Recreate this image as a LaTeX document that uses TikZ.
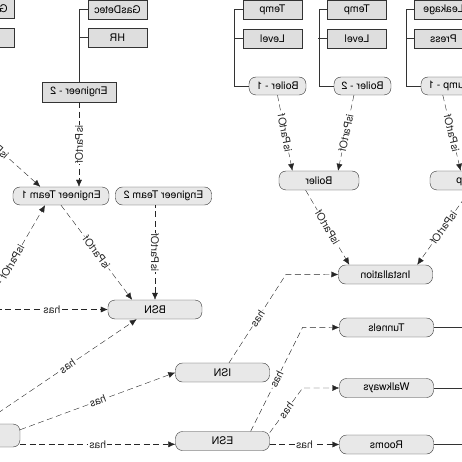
\documentclass[tikz,border=0pt]{standalone}
\usepackage{fontspec}
\setmainfont{TeX Gyre Heros}
\usepackage{tikz}
\usetikzlibrary{arrows.meta, positioning}

\begin{document}
\begin{tikzpicture}[x=1pt, y=-1pt, xscale=-1, transform shape,
    >={Latex[length=7pt, width=6pt]},
    font=\fontsize{10.5}{12}\selectfont,
    rbox/.style={draw=black!80, fill=black!9, rounded corners=7pt,
        minimum width=94pt, minimum height=19pt, inner sep=0pt},
    abox/.style={draw=black!80, fill=black!13,
        minimum width=59pt, minimum height=19pt, inner sep=0pt},
    rel/.style={->, dash pattern=on 6pt off 3.5pt, black!85},
    lbl/.style={fill=white, inner sep=1pt, sloped}]
    \useasboundingbox (0,0) rectangle (462,462);

    % Nhóm kỹ sư
    \node[abox] (gas1) at (477.5,9) {GasDetec};
    \node[abox] (hr1) at (477.5,38) {HR};
    \node[abox] (gas2) at (344.5,9.5) {GasDetec};
    \node[abox] (hr2) at (344.5,37.5) {HR};
    \node[abox, minimum width=74pt, minimum height=20pt] (eng2) at (383,92) {Engineer - 2};
    \node[rbox, minimum width=96pt, minimum height=18pt] (team1) at (401,196) {Engineer Team 1};
    \node[rbox, minimum width=96pt, minimum height=18pt] (team2) at (298.5,196) {Engineer Team 2};
    \draw[black!80] (eng2.north) |- (gas2.east);
    \draw[black!80] (hr2.east) -- ++(9,0);

    % Các mạng
    \node[rbox] (bsn) at (307,309.5) {BSN};
    \node[rbox] (isn) at (239.5,372.5) {ISN};
    \node[rbox] (esn) at (239.5,441) {ESN};
    \node[rbox, minimum height=23pt] (pl) at (489,435.5) {};
    \node[rbox] (inst) at (76.5,274.5) {Installation};
    \node[rbox] (tunnels) at (75.5,327.5) {Tunnels};
    \node[rbox] (walkways) at (75.5,388) {Walkways};
    \node[rbox] (rooms) at (75.5,444.5) {Rooms};
    \foreach \n in {tunnels, walkways, rooms}
        \draw[black!80] (\n.west) -- ++(-40,0);

    % Thiết bị
    \node[rbox, minimum width=80pt] (boiler) at (143,180.5) {Boiler};
    \node[rbox, minimum width=80pt] (pump) at (-8,180.5) {Pump};
    \node[rbox, minimum width=57pt, minimum height=18pt] (boiler1) at (184.5,86) {Boiler - 1};
    \node[rbox, minimum width=57pt, minimum height=18pt] (boiler2) at (99.5,86) {Boiler - 2};
    \node[rbox, minimum width=57pt, minimum height=18pt] (pump1) at (12.5,86) {Pump - 1};
    \node[abox] (temp1) at (189.5,9.5) {Temp};
    \node[abox] (level1) at (189.5,38.5) {Level};
    \node[abox] (temp2) at (105,9.5) {Temp};
    \node[abox] (level2) at (105,38.5) {Level};
    \node[abox] (leak) at (18.5,9.5) {Leakage};
    \node[abox] (press) at (18.5,38.5) {Press};
    \draw[black!80] (boiler1.east) -- ++(15,0) |- (temp1.east);
    \draw[black!80] (level1.east) -- ++(9,0);
    \draw[black!80] (boiler2.east) -- ++(15,0) |- (temp2.east);
    \draw[black!80] (level2.east) -- ++(9,0);
    \draw[black!80] (pump1.east) -- ++(15,0) |- (leak.east);
    \draw[black!80] (press.east) -- ++(8,0);

    % Quan hệ isPartOf
    \coordinate (eng1) at (516,102);
    \coordinate (tm) at (483,319);
    \draw[rel] (eng2.south) -- node[lbl] {isPartOf} (eng2 |- team1.north);
    \draw[rel] (eng1) -- node[lbl] {isPartOf} (team1.24);
    \draw[rel] (tm) -- node[lbl] {isPartOf} (team1.330);
    \draw[rel] (team1.south) -- node[lbl] {isPartOf} (bsn.23);
    \draw[rel, <-] (bsn.north) -- node[lbl] {isPartOf} (bsn |- team2.south);
    \draw[rel] (boiler1.south) -- node[lbl] {isPartOf} (boiler.20);
    \draw[rel] (boiler2.313) -- node[lbl] {isPartOf} (boiler.153);
    \draw[rel] (pump1.306) -- node[lbl] {isPartOf} (pump.46);
    \draw[rel] (boiler.-36) -- node[lbl] {isPartOf} (inst.15);
    \draw[rel] (pump.south) -- node[lbl] {isPartOf} (inst.163);

    % Quan hệ has
    \coordinate (src1) at (466,309.5);
    \coordinate (src2) at (464,413);
    \draw[rel] (src1) -- node[lbl] {has} (bsn.east);
    \draw[rel] (src2) -- node[lbl] {has} (bsn.-28);
    \draw[rel] (pl.173) -- node[lbl] {has} (isn.east);
    \draw[rel] (pl.west |- esn.-4) -- node[lbl] {has} (esn.-4);
    \draw[rel] (isn.124) -- node[lbl] {has} ++(-57,-88.5) -- (inst.east);
    \draw[rel] (esn.161) -- node[lbl] {has} ++(-52,-104) -- (tunnels.east);
    \draw[rel] (esn.170) -- node[lbl] {has} ++(-33,-44.7) -- (walkways.east);
    \draw[rel] (esn.west |- rooms.east) -- node[lbl] {has} (rooms.east);
\end{tikzpicture}
\end{document}
